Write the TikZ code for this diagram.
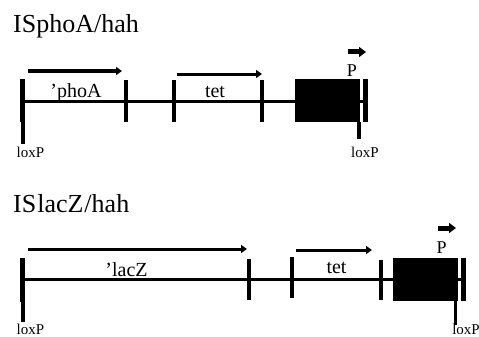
\documentclass[tikz,border=0pt]{standalone}
\usepackage{fontspec}
\setmainfont{Liberation Serif}
\usetikzlibrary{arrows.meta}
\begin{document}
\begin{tikzpicture}[x=1pt,y=-1pt,
  backbone/.style={line width=3pt},
  tickmark/.style={line width=4pt},
  loxbar/.style={line width=5pt},
  loxstem/.style={line width=3.5pt},
  genearrow/.style={line width=3pt,-{Triangle[length=6pt,width=8pt]}},
  promarrow/.style={line width=5pt,-{Triangle[length=7pt,width=10pt]}},
  blackbox/.style={fill=black,draw=none},
  title/.style={inner sep=0pt,anchor=base west,font=\fontsize{26}{26}\selectfont},
  gene/.style={inner sep=0pt,anchor=base,font=\fontsize{20}{20}\selectfont},
  pl/.style={inner sep=0pt,anchor=base,font=\fontsize{18}{18}\selectfont},
  lox/.style={inner sep=0pt,anchor=base,font=\fontsize{15}{15}\selectfont}]
\useasboundingbox (0,0) rectangle (479,337);
% ---------- top construct ----------
\node[title] (t1) at (13,33) {ISphoA/hah};
\coordinate (a0) at (22,101.5);
\coordinate (a1) at (365,101.5);
\draw[backbone] (a0) -- (a1);
\draw[loxbar] (22,79) coordinate (lb1t) -- (22,122) coordinate (lb1b);
\draw[loxstem] (23,122) coordinate (ls1t) -- (23,144) coordinate (ls1);
\draw[tickmark] (126,80) coordinate (k1t) -- (126,122) coordinate (k1b);
\draw[tickmark] (174,80) coordinate (k2t) -- (174,122) coordinate (k2b);
\draw[tickmark] (262,80) coordinate (k3t) -- (262,122) coordinate (k3b);
\fill[blackbox] (295,79) rectangle (360,122);
\draw[loxbar] (365,79) coordinate (rb1t) -- (365,122) coordinate (rb1b);
\draw[loxstem] (359,122) coordinate (rs1t) -- (359,139) coordinate (rs1b);
\coordinate (g1s) at (28,71);  \coordinate (g1e) at (122,71);
\draw[genearrow] (g1s) -- (g1e);
\coordinate (g2s) at (177,74); \coordinate (g2e) at (262,74);
\draw[genearrow] (g2s) -- (g2e);
\coordinate (p1s) at (348,52); \coordinate (p1e) at (366,52);
\draw[promarrow] (p1s) -- (p1e);
\node[gene] (phoA) at (76,97) {’phoA};
\node[gene] (tet1) at (215,97) {tet};
\node[pl] (P1) at (352,77) {P};
\node[lox] (lx1) at (30.5,157) {loxP};
\node[lox] (lx2) at (365,157) {loxP};
% ---------- bottom construct ----------
\node[title] (t2) at (13,212) {IS\kern1pt lacZ\kern1pt /hah};
\coordinate (b0) at (22,279.5);
\coordinate (b1) at (463,279.5);
\draw[backbone] (b0) -- (b1);
\draw[loxbar] (22,258) coordinate (lb2t) -- (22,302) coordinate (lb2b);
\draw[loxstem] (23,302) coordinate (ls2t) -- (23,322) coordinate (ls2);
\draw[tickmark] (249,259) coordinate (m1t) -- (249,300) coordinate (m1b);
\draw[tickmark] (292,257) coordinate (m2t) -- (292,298) coordinate (m2b);
\draw[tickmark] (381,260) coordinate (m3t) -- (381,300) coordinate (m3b);
\fill[blackbox] (393,258) rectangle (458,301);
\draw[loxbar] (463,258) coordinate (rb2t) -- (463,301) coordinate (rb2b);
\draw[loxstem] (455.5,301) coordinate (rs2t) -- (455.5,325) coordinate (rs2b);
\coordinate (h1s) at (28,249);  \coordinate (h1e) at (247,249);
\draw[genearrow] (h1s) -- (h1e);
\coordinate (h2s) at (296,250); \coordinate (h2e) at (372,250);
\draw[genearrow] (h2s) -- (h2e);
\coordinate (p2s) at (438,228); \coordinate (p2e) at (456,228);
\draw[promarrow] (p2s) -- (p2e);
\node[gene] (lacZ) at (126.5,276) {’lacZ};
\node[gene] (tet2) at (336.5,273) {tet};
\node[pl] (P2) at (441.5,253) {P};
\node[lox] (lx3) at (30.5,334) {loxP};
\node[lox] (lx4) at (466,334) {loxP};
\end{tikzpicture}
\end{document}
